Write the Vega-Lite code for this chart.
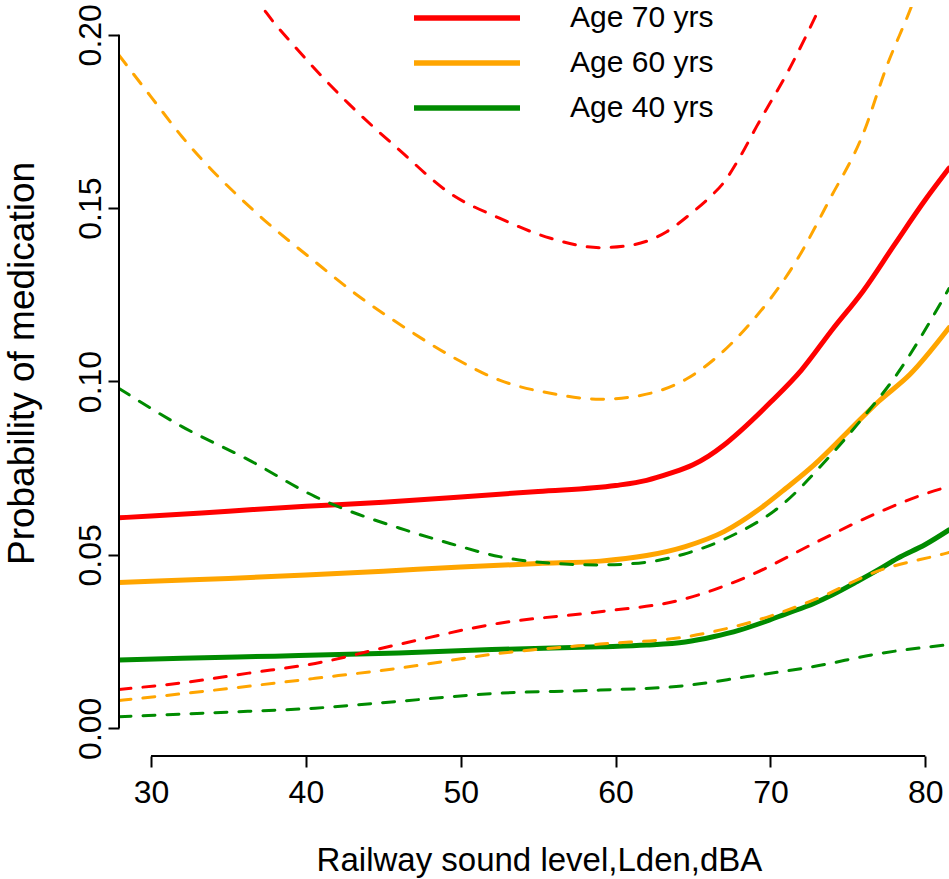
{
  "$schema": "https://vega.github.io/schema/vega-lite/v6.json",
  "width": 830,
  "height": 749,
  "autosize": {"type": "none"},
  "padding": {"left": 119, "top": 7, "right": 0, "bottom": 123},
  "background": "white",
  "config": {
    "view": {"stroke": null},
    "font": "Liberation Sans",
    "axis": {"grid": false, "labelColor": "black", "titleColor": "black", "titleFontWeight": "normal", "tickColor": "black", "tickWidth": 2}
  },
  "datasets": {
    "curves": [
      {"x": 27.93, "p": 0.0607, "age": "Age 70 yrs", "band": "estimate"},
      {"x": 30, "p": 0.0612, "age": "Age 70 yrs", "band": "estimate"},
      {"x": 35, "p": 0.0626, "age": "Age 70 yrs", "band": "estimate"},
      {"x": 40, "p": 0.0640, "age": "Age 70 yrs", "band": "estimate"},
      {"x": 45, "p": 0.0652, "age": "Age 70 yrs", "band": "estimate"},
      {"x": 50, "p": 0.0667, "age": "Age 70 yrs", "band": "estimate"},
      {"x": 55, "p": 0.0683, "age": "Age 70 yrs", "band": "estimate"},
      {"x": 60, "p": 0.0700, "age": "Age 70 yrs", "band": "estimate"},
      {"x": 62, "p": 0.0715, "age": "Age 70 yrs", "band": "estimate"},
      {"x": 63.5, "p": 0.0735, "age": "Age 70 yrs", "band": "estimate"},
      {"x": 65, "p": 0.0760, "age": "Age 70 yrs", "band": "estimate"},
      {"x": 66, "p": 0.0785, "age": "Age 70 yrs", "band": "estimate"},
      {"x": 67, "p": 0.0817, "age": "Age 70 yrs", "band": "estimate"},
      {"x": 68, "p": 0.0855, "age": "Age 70 yrs", "band": "estimate"},
      {"x": 70, "p": 0.0940, "age": "Age 70 yrs", "band": "estimate"},
      {"x": 72, "p": 0.1033, "age": "Age 70 yrs", "band": "estimate"},
      {"x": 74, "p": 0.1150, "age": "Age 70 yrs", "band": "estimate"},
      {"x": 76, "p": 0.1262, "age": "Age 70 yrs", "band": "estimate"},
      {"x": 78, "p": 0.1394, "age": "Age 70 yrs", "band": "estimate"},
      {"x": 80, "p": 0.1524, "age": "Age 70 yrs", "band": "estimate"},
      {"x": 81.53, "p": 0.1615, "age": "Age 70 yrs", "band": "estimate"},

      {"x": 27.93, "p": 0.0420, "age": "Age 60 yrs", "band": "estimate"},
      {"x": 30, "p": 0.0424, "age": "Age 60 yrs", "band": "estimate"},
      {"x": 35, "p": 0.0432, "age": "Age 60 yrs", "band": "estimate"},
      {"x": 40, "p": 0.0442, "age": "Age 60 yrs", "band": "estimate"},
      {"x": 45, "p": 0.0453, "age": "Age 60 yrs", "band": "estimate"},
      {"x": 50, "p": 0.0465, "age": "Age 60 yrs", "band": "estimate"},
      {"x": 55, "p": 0.0475, "age": "Age 60 yrs", "band": "estimate"},
      {"x": 59, "p": 0.0482, "age": "Age 60 yrs", "band": "estimate"},
      {"x": 62, "p": 0.0498, "age": "Age 60 yrs", "band": "estimate"},
      {"x": 64.5, "p": 0.0524, "age": "Age 60 yrs", "band": "estimate"},
      {"x": 67, "p": 0.0567, "age": "Age 60 yrs", "band": "estimate"},
      {"x": 69.5, "p": 0.0639, "age": "Age 60 yrs", "band": "estimate"},
      {"x": 71, "p": 0.0692, "age": "Age 60 yrs", "band": "estimate"},
      {"x": 72.8, "p": 0.0759, "age": "Age 60 yrs", "band": "estimate"},
      {"x": 75, "p": 0.0855, "age": "Age 60 yrs", "band": "estimate"},
      {"x": 77, "p": 0.0943, "age": "Age 60 yrs", "band": "estimate"},
      {"x": 79, "p": 0.1020, "age": "Age 60 yrs", "band": "estimate"},
      {"x": 81.53, "p": 0.1155, "age": "Age 60 yrs", "band": "estimate"},

      {"x": 27.93, "p": 0.0197, "age": "Age 40 yrs", "band": "estimate"},
      {"x": 32, "p": 0.0202, "age": "Age 40 yrs", "band": "estimate"},
      {"x": 38, "p": 0.0208, "age": "Age 40 yrs", "band": "estimate"},
      {"x": 46, "p": 0.0217, "age": "Age 40 yrs", "band": "estimate"},
      {"x": 52, "p": 0.0227, "age": "Age 40 yrs", "band": "estimate"},
      {"x": 59, "p": 0.0235, "age": "Age 40 yrs", "band": "estimate"},
      {"x": 62, "p": 0.0240, "age": "Age 40 yrs", "band": "estimate"},
      {"x": 64.5, "p": 0.0249, "age": "Age 40 yrs", "band": "estimate"},
      {"x": 66.3, "p": 0.0264, "age": "Age 40 yrs", "band": "estimate"},
      {"x": 68, "p": 0.0283, "age": "Age 40 yrs", "band": "estimate"},
      {"x": 69.5, "p": 0.0305, "age": "Age 40 yrs", "band": "estimate"},
      {"x": 71, "p": 0.0330, "age": "Age 40 yrs", "band": "estimate"},
      {"x": 72.8, "p": 0.0360, "age": "Age 40 yrs", "band": "estimate"},
      {"x": 74, "p": 0.0385, "age": "Age 40 yrs", "band": "estimate"},
      {"x": 75.6, "p": 0.0423, "age": "Age 40 yrs", "band": "estimate"},
      {"x": 77, "p": 0.0458, "age": "Age 40 yrs", "band": "estimate"},
      {"x": 78.2, "p": 0.0490, "age": "Age 40 yrs", "band": "estimate"},
      {"x": 80, "p": 0.0530, "age": "Age 40 yrs", "band": "estimate"},
      {"x": 81.53, "p": 0.0572, "age": "Age 40 yrs", "band": "estimate"},

      {"x": 36.5, "p": 0.2125, "age": "Age 70 yrs", "band": "upper"},
      {"x": 37.47, "p": 0.2062, "age": "Age 70 yrs", "band": "upper"},
      {"x": 39.3, "p": 0.1965, "age": "Age 70 yrs", "band": "upper"},
      {"x": 42.74, "p": 0.1802, "age": "Age 70 yrs", "band": "upper"},
      {"x": 46.1, "p": 0.1665, "age": "Age 70 yrs", "band": "upper"},
      {"x": 49.3, "p": 0.1543, "age": "Age 70 yrs", "band": "upper"},
      {"x": 52.5, "p": 0.1471, "age": "Age 70 yrs", "band": "upper"},
      {"x": 55.8, "p": 0.1413, "age": "Age 70 yrs", "band": "upper"},
      {"x": 59, "p": 0.1386, "age": "Age 70 yrs", "band": "upper"},
      {"x": 61.1, "p": 0.1394, "age": "Age 70 yrs", "band": "upper"},
      {"x": 63.3, "p": 0.1432, "age": "Age 70 yrs", "band": "upper"},
      {"x": 64.8, "p": 0.1482, "age": "Age 70 yrs", "band": "upper"},
      {"x": 66, "p": 0.1528, "age": "Age 70 yrs", "band": "upper"},
      {"x": 67, "p": 0.1575, "age": "Age 70 yrs", "band": "upper"},
      {"x": 68, "p": 0.1645, "age": "Age 70 yrs", "band": "upper"},
      {"x": 69.1, "p": 0.1735, "age": "Age 70 yrs", "band": "upper"},
      {"x": 71.3, "p": 0.1908, "age": "Age 70 yrs", "band": "upper"},
      {"x": 73.2, "p": 0.2081, "age": "Age 70 yrs", "band": "upper"},
      {"x": 74, "p": 0.2160, "age": "Age 70 yrs", "band": "upper"},

      {"x": 27.93, "p": 0.0112, "age": "Age 70 yrs", "band": "lower"},
      {"x": 32, "p": 0.0131, "age": "Age 70 yrs", "band": "lower"},
      {"x": 36.3, "p": 0.0159, "age": "Age 70 yrs", "band": "lower"},
      {"x": 40.6, "p": 0.0187, "age": "Age 70 yrs", "band": "lower"},
      {"x": 45.8, "p": 0.0240, "age": "Age 70 yrs", "band": "lower"},
      {"x": 52.5, "p": 0.0303, "age": "Age 70 yrs", "band": "lower"},
      {"x": 59, "p": 0.0336, "age": "Age 70 yrs", "band": "lower"},
      {"x": 64.3, "p": 0.0371, "age": "Age 70 yrs", "band": "lower"},
      {"x": 68.5, "p": 0.0437, "age": "Age 70 yrs", "band": "lower"},
      {"x": 72.8, "p": 0.0533, "age": "Age 70 yrs", "band": "lower"},
      {"x": 77.1, "p": 0.0625, "age": "Age 70 yrs", "band": "lower"},
      {"x": 80.9, "p": 0.0689, "age": "Age 70 yrs", "band": "lower"},
      {"x": 81.53, "p": 0.0697, "age": "Age 70 yrs", "band": "lower"},

      {"x": 27.93, "p": 0.1941, "age": "Age 60 yrs", "band": "upper"},
      {"x": 30, "p": 0.1821, "age": "Age 60 yrs", "band": "upper"},
      {"x": 32, "p": 0.1706, "age": "Age 60 yrs", "band": "upper"},
      {"x": 36.7, "p": 0.1490, "age": "Age 60 yrs", "band": "upper"},
      {"x": 40.6, "p": 0.1345, "age": "Age 60 yrs", "band": "upper"},
      {"x": 43.5, "p": 0.1243, "age": "Age 60 yrs", "band": "upper"},
      {"x": 46.4, "p": 0.1155, "age": "Age 60 yrs", "band": "upper"},
      {"x": 49.5, "p": 0.1070, "age": "Age 60 yrs", "band": "upper"},
      {"x": 52.5, "p": 0.1004, "age": "Age 60 yrs", "band": "upper"},
      {"x": 55.8, "p": 0.0966, "age": "Age 60 yrs", "band": "upper"},
      {"x": 59, "p": 0.0949, "age": "Age 60 yrs", "band": "upper"},
      {"x": 61.1, "p": 0.0956, "age": "Age 60 yrs", "band": "upper"},
      {"x": 64.6, "p": 0.1008, "age": "Age 60 yrs", "band": "upper"},
      {"x": 68.5, "p": 0.1158, "age": "Age 60 yrs", "band": "upper"},
      {"x": 71.7, "p": 0.1350, "age": "Age 60 yrs", "band": "upper"},
      {"x": 73.8, "p": 0.1523, "age": "Age 60 yrs", "band": "upper"},
      {"x": 76, "p": 0.1716, "age": "Age 60 yrs", "band": "upper"},
      {"x": 77.5, "p": 0.1908, "age": "Age 60 yrs", "band": "upper"},
      {"x": 79.1, "p": 0.2081, "age": "Age 60 yrs", "band": "upper"},
      {"x": 80, "p": 0.2190, "age": "Age 60 yrs", "band": "upper"},

      {"x": 27.93, "p": 0.0080, "age": "Age 60 yrs", "band": "lower"},
      {"x": 34.1, "p": 0.0110, "age": "Age 60 yrs", "band": "lower"},
      {"x": 40.6, "p": 0.0144, "age": "Age 60 yrs", "band": "lower"},
      {"x": 45.8, "p": 0.0172, "age": "Age 60 yrs", "band": "lower"},
      {"x": 52.5, "p": 0.0216, "age": "Age 60 yrs", "band": "lower"},
      {"x": 59, "p": 0.0243, "age": "Age 60 yrs", "band": "lower"},
      {"x": 64.3, "p": 0.0262, "age": "Age 60 yrs", "band": "lower"},
      {"x": 68.5, "p": 0.0303, "age": "Age 60 yrs", "band": "lower"},
      {"x": 72.8, "p": 0.0370, "age": "Age 60 yrs", "band": "lower"},
      {"x": 77.1, "p": 0.0456, "age": "Age 60 yrs", "band": "lower"},
      {"x": 81.2, "p": 0.0503, "age": "Age 60 yrs", "band": "lower"},
      {"x": 81.53, "p": 0.0507, "age": "Age 60 yrs", "band": "lower"},

      {"x": 27.93, "p": 0.0980, "age": "Age 40 yrs", "band": "upper"},
      {"x": 32, "p": 0.0870, "age": "Age 40 yrs", "band": "upper"},
      {"x": 36.3, "p": 0.0774, "age": "Age 40 yrs", "band": "upper"},
      {"x": 40.6, "p": 0.0668, "age": "Age 40 yrs", "band": "upper"},
      {"x": 46.4, "p": 0.0572, "age": "Age 40 yrs", "band": "upper"},
      {"x": 49.3, "p": 0.0533, "age": "Age 40 yrs", "band": "upper"},
      {"x": 52.5, "p": 0.0495, "age": "Age 40 yrs", "band": "upper"},
      {"x": 55.8, "p": 0.0476, "age": "Age 40 yrs", "band": "upper"},
      {"x": 59, "p": 0.0471, "age": "Age 40 yrs", "band": "upper"},
      {"x": 62.2, "p": 0.0480, "age": "Age 40 yrs", "band": "upper"},
      {"x": 64.4, "p": 0.0502, "age": "Age 40 yrs", "band": "upper"},
      {"x": 67.4, "p": 0.0553, "age": "Age 40 yrs", "band": "upper"},
      {"x": 70.6, "p": 0.0639, "age": "Age 40 yrs", "band": "upper"},
      {"x": 73.8, "p": 0.0783, "age": "Age 40 yrs", "band": "upper"},
      {"x": 76.2, "p": 0.0908, "age": "Age 40 yrs", "band": "upper"},
      {"x": 77.9, "p": 0.1004, "age": "Age 40 yrs", "band": "upper"},
      {"x": 81.53, "p": 0.1268, "age": "Age 40 yrs", "band": "upper"},

      {"x": 27.93, "p": 0.0033, "age": "Age 40 yrs", "band": "lower"},
      {"x": 34.1, "p": 0.0045, "age": "Age 40 yrs", "band": "lower"},
      {"x": 40.6, "p": 0.0058, "age": "Age 40 yrs", "band": "lower"},
      {"x": 45.8, "p": 0.0077, "age": "Age 40 yrs", "band": "lower"},
      {"x": 52.5, "p": 0.0101, "age": "Age 40 yrs", "band": "lower"},
      {"x": 59, "p": 0.0110, "age": "Age 40 yrs", "band": "lower"},
      {"x": 64.3, "p": 0.0122, "age": "Age 40 yrs", "band": "lower"},
      {"x": 68.5, "p": 0.0149, "age": "Age 40 yrs", "band": "lower"},
      {"x": 72.8, "p": 0.0178, "age": "Age 40 yrs", "band": "lower"},
      {"x": 77.1, "p": 0.0216, "age": "Age 40 yrs", "band": "lower"},
      {"x": 81.53, "p": 0.0241, "age": "Age 40 yrs", "band": "lower"}
    ],
    "yAxisLine": [{"x": 27.93, "p": 0, "p2": 0.2}],
    "xAxisLine": [{"x": 30, "x2": 80, "p": -0.008}]
  },
  "layer": [
    {
      "data": {"name": "curves"},
      "transform": [{"filter": "datum.band === 'estimate'"}],
      "mark": {"type": "line", "strokeWidth": 5, "clip": true, "interpolate": "monotone", "strokeCap": "round", "strokeJoin": "round"},
      "encoding": {
        "x": {
          "field": "x", "type": "quantitative",
          "scale": {"domain": [27.93, 81.53], "nice": false, "zero": false},
          "axis": {
            "values": [30, 40, 50, 60, 70, 80], "domain": false, "tickSize": 11,
            "labelFontSize": 32, "labelPadding": 10, "labelFlush": false,
            "title": "Railway sound level,Lden,dBA", "titleFontSize": 33,
            "titleBaseline": "alphabetic", "titleY": 114, "titleX": 420, "titleAlign": "center"
          }
        },
        "y": {
          "field": "p", "type": "quantitative",
          "scale": {"domain": [-0.008, 0.208], "nice": false, "zero": false},
          "axis": {
            "values": [0, 0.05, 0.1, 0.15, 0.2], "format": ".2f", "domain": false, "tickSize": 11,
            "labelFontSize": 32, "labelAngle": 270, "labelAlign": "center", "labelBaseline": "alphabetic", "labelPadding": 8,
            "title": "Probability of medication", "titleFontSize": 37, "titleAngle": 270,
            "titleBaseline": "alphabetic", "titleX": -86, "titleY": 356, "titleAlign": "center"
          }
        },
        "color": {
          "field": "age", "type": "nominal",
          "scale": {"domain": ["Age 70 yrs", "Age 60 yrs", "Age 40 yrs"], "range": ["#ff0000", "#ffa500", "#008b00"]},
          "legend": {
            "title": null, "orient": "none", "legendX": 292, "legendY": -11.5,
            "symbolType": "stroke", "symbolSize": 11236, "symbolStrokeWidth": 5.5, "clipHeight": 45,
            "labelOffset": 47, "labelFontSize": 30, "labelFont": "Liberation Sans", "labelColor": "black",
            "labelLimit": 400, "padding": 0, "rowPadding": 0, "symbolOpacity": 1
          }
        }
      }
    },
    {
      "data": {"name": "curves"},
      "transform": [{"filter": "datum.band !== 'estimate'"}],
      "mark": {"type": "line", "strokeWidth": 3, "strokeDash": [12, 12], "clip": true, "interpolate": "monotone", "strokeCap": "round"},
      "encoding": {
        "x": {"field": "x", "type": "quantitative"},
        "y": {"field": "p", "type": "quantitative"},
        "color": {"field": "age", "type": "nominal"},
        "detail": {"field": "band"}
      }
    },
    {
      "data": {"name": "yAxisLine"},
      "mark": {"type": "rule", "color": "black", "strokeWidth": 2},
      "encoding": {
        "x": {"field": "x", "type": "quantitative"},
        "y": {"field": "p", "type": "quantitative"},
        "y2": {"field": "p2"}
      }
    },
    {
      "data": {"name": "xAxisLine"},
      "mark": {"type": "rule", "color": "black", "strokeWidth": 2},
      "encoding": {
        "x": {"field": "x", "type": "quantitative"},
        "x2": {"field": "x2"},
        "y": {"field": "p", "type": "quantitative"}
      }
    }
  ]
}
